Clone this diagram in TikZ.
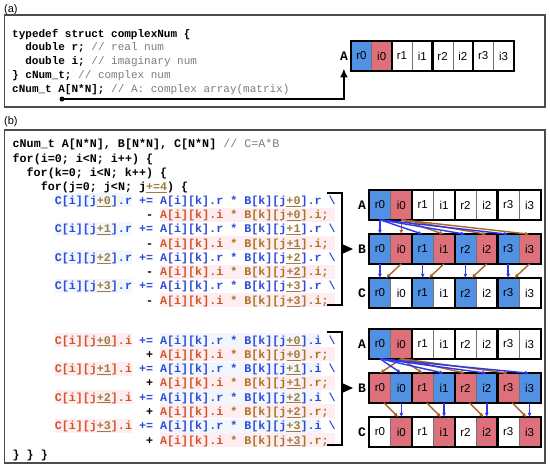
\documentclass[tikz,border=0pt]{standalone}
\usepackage{fontspec}
\setmainfont{Liberation Sans}
\newfontfamily\codefont{Liberation Mono}
\usetikzlibrary{arrows.meta, positioning}

\definecolor{cellblue}{RGB}{80,145,228}
\definecolor{cellred}{RGB}{222,112,124}
\definecolor{codeblue}{RGB}{45,75,215}
\definecolor{codeorange}{RGB}{210,85,40}
\definecolor{codebrown}{RGB}{170,115,40}
\definecolor{ulcol}{RGB}{160,125,60}
\definecolor{cmtgray}{RGB}{125,125,125}
\definecolor{arrblue}{RGB}{45,55,235}
\definecolor{arrbrown}{RGB}{175,100,40}
\definecolor{bgpink}{RGB}{254,238,241}
\definecolor{bgblue}{RGB}{242,247,253}
\definecolor{framegray}{RGB}{75,75,75}

\newcommand\uo[1]{\textcolor{ulcol}{\underline{#1}}}
\newcommand\cmt[1]{{\mdseries\color{cmtgray}#1}}
\newcommand\bsl{\textbackslash}

\begin{document}
\begin{tikzpicture}[x=1pt, y=-1pt,
    codeline/.style={anchor=base west, inner sep=0pt, font=\codefont\bfseries\fontsize{11.7}{14}\selectfont\frenchspacing},
    codelinea/.style={codeline, font=\codefont\bfseries\fontsize{11}{13}\selectfont\frenchspacing},
    arrcell/.style={draw=black!55, line width=0.5pt, anchor=west, minimum width=21.375pt, minimum height=29pt, inner sep=0pt, font=\fontsize{11.5}{12}\selectfont},
    pairbox/.style={line width=2pt, black},
    rowlbl/.style={anchor=east, inner sep=0pt, font=\codefont\bfseries\fontsize{13}{14}\selectfont},
    panel/.style={draw=framegray, line width=1.2pt},
    tag/.style={anchor=west, inner sep=0pt, font=\fontsize{11}{12}\selectfont},
    brk/.style={line width=2pt},
    ablue/.style={draw=arrblue, line width=1.4pt, -{Latex[length=4.5pt, width=4pt]}},
    abrown/.style={draw=arrbrown, line width=1.4pt, -{Latex[length=4.5pt, width=4pt]}}]

    \fill[white] (0,0) rectangle (550,471);
    \useasboundingbox (0,0) rectangle (550,471);

    % --- Teil (a) ---
    \node[tag] (tagA) at (4,10) {(a)};
    \draw[panel] (4.5,15) rectangle (545,107);

    \node[codelinea] (a1) at (12,37.1) {typedef struct complexNum \{};
    \node[codelinea] (a2) at (25.2,50.8) {double r; \cmt{// real num}};
    \node[codelinea] (a3) at (25.2,64.6) {double i; \cmt{// imaginary num}};
    \node[codelinea] (a4) at (12,78.3) {\} cNum\_t; \cmt{// complex num}};
    \node[codelinea] (a5) at (12,92.1) {cNum\_t A[N*N]; \cmt{// A: complex array(matrix)}};

    % A-Zeilen (a) und (b)
    \foreach \rw/\x/\y/\w in {aA/351/56/20.3, uA/369/205/21.375, lA/369/344/21.375}{
        \foreach \k/\lb/\f in {0/r0/cellblue,1/i0/cellred,2/r1/white,3/i1/white,4/r2/white,5/i2/white,6/r3/white,7/i3/white}
            \node[arrcell, fill=\f, minimum width=\w pt] (\rw\lb) at (\x+\k*\w, \y) {\lb};
        \foreach \p in {0,...,3}
            \draw[pairbox] (\rw r\p.north west) rectangle (\rw i\p.south east);
    }
    \node[rowlbl] (aAlab) at (348,56) {A};

    % Zeiger auf A
    \coordinate (aptr) at (62,99);
    \fill (aptr) circle (2.5);
    \draw[line width=2pt, -{Latex[length=9pt, width=8pt]}, shorten >=8pt] (aptr) -| (aAlab.south);

    % --- Teil (b) ---
    \node[tag] (tagB) at (4,122) {(b)};
    \draw[panel] (4.5,130) rectangle (545,463);

    % Hintergrund
    \foreach \n in {0,...,3}{
        \fill[bgblue] (54.6,193.2+\n*28.58) rectangle (131.8,207.2+\n*28.58);
        \fill[bgpink] (159.9,207.5+\n*28.58) rectangle (335.4,221.5+\n*28.58);
        \fill[bgpink] (54.6,333+\n*28.58) rectangle (131.8,347+\n*28.58);
        \fill[bgblue] (159.9,333+\n*28.58) rectangle (321.4,347+\n*28.58);
        \fill[bgpink] (159.9,347.3+\n*28.58) rectangle (335.4,361.3+\n*28.58);
    }

    \node[codeline] (b1) at (12.5,147.8) {cNum\_t A[N*N], B[N*N], C[N*N] \cmt{// C=A*B}};
    \node[codeline] (b2) at (12.5,162.1) {for(i=0; i<N; i++) \{};
    \node[codeline] (b3) at (26.5,176.4) {for(k=0; i<N; k++) \{};
    \node[codeline] (b4) at (40.6,190.7) {for(j=0; j<N; j\uo{+=4}) \{};

    % Realteil
    \foreach \n in {0,...,3}{
        \node[codeline] (ur\n) at (54.6,204.2+\n*28.58)
            {\color{codeblue}C[i][j\uo{+\n}].r += A[i][k].r * B[k][j\uo{+\n}].r \bsl};
        \node[codeline] (ui\n) at (145.9,218.5+\n*28.58)
            {- {\color{codeorange}A[i][k].i} {\color{codebrown}* B[k][j\uo{+\n}].i;}};
    }

    % Imaginaerteil
    \foreach \n in {0,...,3}{
        \node[codeline] (li\n) at (54.6,344+\n*28.58)
            {{\color{codeorange}C[i][j\uo{+\n}].i} {\color{codeblue}+= A[i][k].r * B[k][j\uo{+\n}].i \bsl}};
        \node[codeline] (lr\n) at (145.9,358.3+\n*28.58)
            {+ {\color{codeorange}A[i][k].i} {\color{codebrown}* B[k][j\uo{+\n}].r;}};
    }
    \node[codeline] (bend) at (12.5,458.3) {\} \} \}};

    % Klammern
    \draw[brk] (327,193) -| (342,305) -- (327,305);
    \fill (342,244) -- (353,249) -- (342,254) -- cycle;
    \draw[brk] (327,332) -| (342,445) -- (327,445);
    \fill (342,383) -- (353,388) -- (342,393) -- cycle;

    % B- und C-Zeilen
    \foreach \rw/\y/\rf/\cf in {uB/249/cellblue/cellred, uC/293/cellblue/white, lB/388/cellred/cellblue, lC/432/white/cellred}{
        \foreach \p in {0,...,3}{
            \node[arrcell, fill=\rf] (\rw r\p) at (369+\p*42.75, \y) {r\p};
            \node[arrcell, fill=\cf] (\rw i\p) at (390.375+\p*42.75, \y) {i\p};
        }
        \foreach \p in {0,...,3}
            \draw[pairbox] (\rw r\p.north west) rectangle (\rw i\p.south east);
    }

    \foreach \rw/\y/\lb in {uA/205/A, uB/249/B, uC/293/C, lA/344/A, lB/388/B, lC/432/C}
        \node[rowlbl] (\rw lab) at (366,\y) {\lb};

    % Pfeile oben (Realteil)
    \foreach \p in {0,...,3}{
        \draw[abrown] (uAi0.south) -- (uBi\p.north);
        \draw[ablue] (uAr0.south) -- (uBr\p.north);
        \draw[ablue] (uBr\p.south) -- (uCr\p.north);
        \draw[abrown] (uBi\p.south) -- ([xshift=6pt]uCr\p.north);
    }

    % Pfeile unten (Imaginaerteil)
    \foreach \p in {0,...,3}{
        \draw[abrown] (lAi0.south) -- (lBr\p.north);
        \draw[ablue] (lAr0.south) -- (lBi\p.north);
        \draw[ablue] (lBi\p.south) -- (lCi\p.north);
        \draw[abrown] ([xshift=4pt]lBr\p.south) -- ([xshift=-3pt]lCi\p.north);
    }
\end{tikzpicture}
\end{document}
